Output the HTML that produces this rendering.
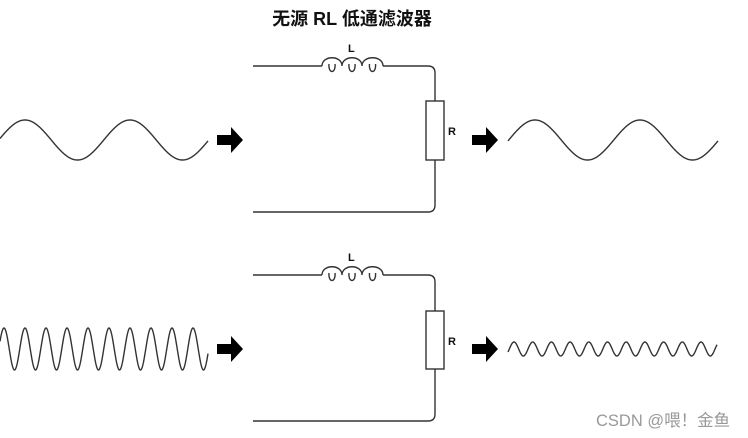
<!DOCTYPE html>
<html><head><meta charset="utf-8"><style>
html,body{margin:0;padding:0;background:#fff;width:748px;height:438px;overflow:hidden}
svg{display:block}
</style></head><body>
<svg width="748" height="438" viewBox="0 0 748 438" xmlns="http://www.w3.org/2000/svg">
<text x="352" y="25" font-family="Liberation Sans, Noto Sans CJK SC, sans-serif" font-size="18" font-weight="bold" text-anchor="middle" fill="#111">无源 RL 低通滤波器</text>
<g fill="none" stroke="#333" stroke-width="1.4">
<path id="w1"/><path id="w2"/><path id="w3"/><path id="w4"/>
<path d="M253 66 H322 M383 66 H428 Q435 66 435 73 V101 M435 160 V205 Q435 212 428 212 H253"/>
<rect x="426" y="101" width="18" height="59"/>
<path id="ind1"/>
<path d="M253 275 H322 M383 275 H428 Q435 275 435 282 V311 M435 369 V414 Q435 421 428 421 H253"/>
<rect x="426" y="311" width="18" height="58"/>
<path id="ind2"/>
</g>
<g fill="#000">
<path d="M217 135 H231 V127 L243 140 L231 153 V145 H217 Z"/>
<path d="M472 135 H486 V127 L498 140 L486 153 V145 H472 Z"/>
<path d="M217 344 H231 V336 L243 349 L231 362 V354 H217 Z"/>
<path d="M472 344 H486 V336 L498 349 L486 362 V354 H472 Z"/>
</g>
<g font-family="Liberation Sans, sans-serif" font-size="11" font-weight="bold" fill="#111">
<text x="348" y="52">L</text><text x="448" y="135">R</text>
<text x="348" y="261">L</text><text x="448" y="345">R</text>
</g>
<text x="596" y="426" font-family="Liberation Sans, Noto Sans CJK SC, sans-serif" font-size="16.5" fill="#999">CSDN @喂！金鱼</text>
</svg>
<script>
function wave(id,x0,x1,cy,a,p,pk){var d="";for(var x=x0;x<=x1;x+=0.5){var y=cy-a*Math.cos(2*Math.PI*(x-pk)/p);d+=(d?"L":"M")+x.toFixed(1)+" "+y.toFixed(2);}document.getElementById(id).setAttribute("d",d);}
wave("w1",0,208,140,20,105,25);
wave("w2",508,718,140,20,105,535);
wave("w3",0,208,349,21,21,4);
wave("w4",508,717,349,7,18.7,514);
function ind(id,y){var xs=[322,342,362,383];var d="";for(var i=0;i<3;i++){var a=xs[i],b=xs[i+1];var c=(a+b)/2;d+="M"+a+" "+y+" C"+a+" "+(y-11)+" "+b+" "+(y-11)+" "+b+" "+y+" ";d+="M"+(c-3)+" "+(y-2)+" C"+(c-4)+" "+(y+8)+" "+(c+4)+" "+(y+8)+" "+(c+3)+" "+(y-2)+" ";}
document.getElementById(id).setAttribute("d",d);}
ind("ind1",66);ind("ind2",275);
</script>
</body></html>
